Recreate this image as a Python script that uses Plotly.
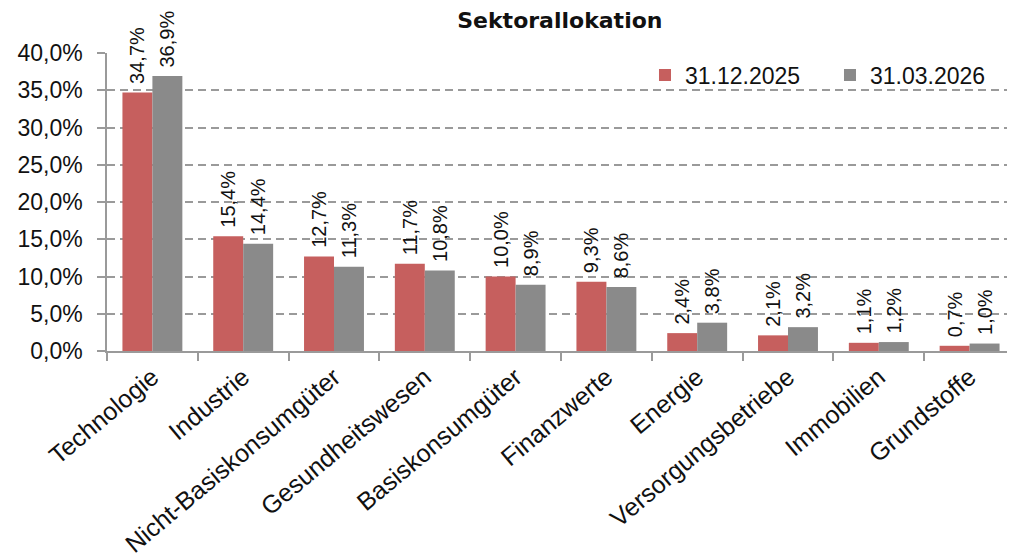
import plotly.graph_objects as go

categories = ["Technologie", "Industrie", "Nicht-Basiskonsumgüter", "Gesundheitswesen",
              "Basiskonsumgüter", "Finanzwerte", "Energie", "Versorgungsbetriebe",
              "Immobilien", "Grundstoffe"]
series_names = ["31.12.2025", "31.03.2026"]
values_2025 = [0.347, 0.154, 0.127, 0.117, 0.100, 0.093, 0.024, 0.021, 0.011, 0.007]
values_2026 = [0.369, 0.144, 0.113, 0.108, 0.089, 0.086, 0.038, 0.032, 0.012, 0.010]
y_ticks = [0, 0.05, 0.10, 0.15, 0.20, 0.25, 0.30, 0.35, 0.40]

colors = ["#C65F5E", "#8A8A8A"]
font_family = "Liberation Sans, Arial, sans-serif"

fig = go.Figure()
for name, vals, col in zip(series_names, [values_2025, values_2026], colors):
    fig.add_trace(go.Bar(
        x=categories, y=vals, name=name,
        marker=dict(color=col, line=dict(width=0)),
        texttemplate="\u00a0%{y:.1%}", textposition="outside", textangle=-90,
        constraintext="none",
        textfont=dict(size=20, color="#111111", family=font_family),
        cliponaxis=False,
    ))

# page body has an 8px default margin, so the figure is offset by (8, 8)
fig.update_layout(
    width=1007, height=550,
    margin=dict(l=99, r=0, t=45, b=207),
    paper_bgcolor="white", plot_bgcolor="white",
    barmode="group", bargap=0.34, bargroupgap=0,
    separators=",.",
    font=dict(family=font_family, size=22, color="#111111"),
    title=dict(text="<b>Sektorallokation</b>", x=0.548, xanchor="center", y=0.978, yanchor="middle",
               font=dict(size=22, family="DejaVu Sans, sans-serif", color="#111111")),
    legend=dict(orientation="h", x=0.5925, xanchor="left", y=0.926, yanchor="middle",
                font=dict(size=23), bgcolor="rgba(0,0,0,0)", itemwidth=30,
                entrywidth=140, entrywidthmode="pixels",
                traceorder="normal"),
    showlegend=True,
)
fig.update_yaxes(
    range=[0, 0.4], tickvals=y_ticks, tickformat=".1%", automargin=False,
    showgrid=True, gridcolor="#9A9A9A", gridwidth=1.5, griddash="8px,5px",
    showline=True, linecolor="#9A9A9A", linewidth=1.5,
    ticks="outside", ticklen=8, tickcolor="#9A9A9A", tickwidth=1.5,
    ticklabelstandoff=10,
    tickfont=dict(size=23), zeroline=False,
)
fig.update_xaxes(
    tickangle=-40, tickson="boundaries", automargin=False,
    showline=True, linecolor="#9A9A9A", linewidth=1.5,
    ticks="outside", ticklen=8, tickcolor="#9A9A9A", tickwidth=1.5,
    tickfont=dict(size=25),
)

fig.write_html("out.html")
